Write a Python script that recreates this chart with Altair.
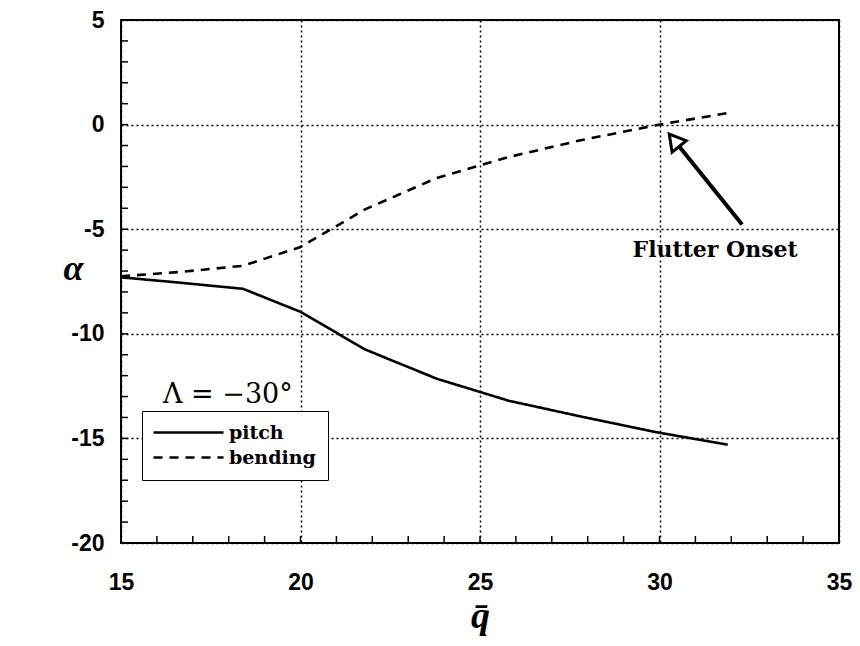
import altair as alt
import pandas as pd

# Eigenvalue trace: real part of each mode versus dynamic pressure
q_values = [15.0, 16.6, 18.4, 20.0, 21.8, 23.8, 25.8, 27.8, 29.9, 31.9]
pitch_alpha = [-7.3, -7.55, -7.85, -8.95, -10.75, -12.15, -13.2, -13.95, -14.7, -15.3]
bending_alpha = [-7.25, -7.05, -6.75, -5.85, -4.05, -2.55, -1.55, -0.75, -0.03, 0.55]
mode_names = ["pitch", "bending"]

x_major = [15, 20, 25, 30, 35]
y_major = [5, 0, -5, -10, -15, -20]
x_minor = list(range(16, 35))
y_minor = list(range(-19, 5))

W, H = 718, 523
TICK = 7

rows = []
for q, a in zip(q_values, pitch_alpha):
    rows.append({"q": q, "alpha": a, "mode": "pitch"})
for q, a in zip(q_values, bending_alpha):
    rows.append({"q": q, "alpha": a, "mode": "bending"})
curves = pd.DataFrame(rows)

xs = alt.Scale(domain=[15, 35], nice=False, zero=False)
ys = alt.Scale(domain=[-20, 5], nice=False, zero=False)

tick_font = "Liberation Sans"
hyphen_labels = "replace(datum.label, '\u2212', '-')"

x_axis = alt.Axis(
    values=x_major, ticks=False, domain=False, grid=True,
    gridDash=[2, 3], gridColor="black", gridWidth=1.5, gridOpacity=1,
    labelFont=tick_font, labelFontSize=23, labelFontWeight="bold",
    labelColor="black", labelPadding=28, labelFlush=False,
    title="q\u0304", titleFont="Liberation Serif", titleFontSize=38,
    titleFontStyle="italic", titleFontWeight="bold", titleColor="black",
    titleY=84, titleBaseline="alphabetic",
)
y_axis = alt.Axis(
    values=y_major, ticks=False, domain=False, grid=True,
    gridDash=[2, 3], gridColor="black", gridWidth=1.5, gridOpacity=1,
    labelFont=tick_font, labelFontSize=23, labelFontWeight="bold",
    labelColor="black", labelPadding=17, labelFlush=False,
    labelExpr=hyphen_labels,
    title="\u03b1", titleFont="Liberation Serif", titleFontSize=36,
    titleFontStyle="italic", titleFontWeight="bold", titleColor="black",
    titleAngle=0, titleX=-48, titleY=248, titleBaseline="middle",
)

# legend key: a long horizontal stroke drawn to the right of the symbol's slot
key_path = "M-2,0L12,0"

lines = alt.Chart(curves).mark_line(color="black", strokeWidth=2.6).encode(
    x=alt.X("q:Q", scale=xs, axis=x_axis),
    y=alt.Y("alpha:Q", scale=ys, axis=y_axis),
    strokeDash=alt.StrokeDash(
        "mode:N",
        scale=alt.Scale(domain=mode_names, range=[[1, 0], [9, 7]]),
        legend=alt.Legend(title=None),
    ),
    detail="mode:N",
)

# inward minor/major ticks on the left and bottom edges
xt = alt.Chart(pd.DataFrame({"q": x_minor})).mark_rule(color="black", strokeWidth=1.5).encode(
    x=alt.X("q:Q", scale=xs), y=alt.value(H), y2=alt.value(H - TICK)
)
yt = alt.Chart(pd.DataFrame({"alpha": y_minor})).mark_rule(color="black", strokeWidth=1.5).encode(
    y=alt.Y("alpha:Q", scale=ys), x=alt.value(0), x2=alt.value(TICK)
)

# flutter-onset arrow
arrow_tail = (32.30, -4.78)
arrow_head = (30.41, -0.75)
arrow_df = pd.DataFrame({"q": [arrow_tail[0], arrow_head[0]], "alpha": [arrow_tail[1], arrow_head[1]]})
arrow_line = alt.Chart(arrow_df).mark_line(color="black", strokeWidth=4).encode(
    x=alt.X("q:Q", scale=xs), y=alt.Y("alpha:Q", scale=ys)
)
arrow_tip = alt.Chart(pd.DataFrame({"q": [arrow_head[0]], "alpha": [arrow_head[1]]})).mark_point(
    shape="triangle-up", size=330, filled=True, fill="white", stroke="black",
    strokeWidth=3, opacity=1, angle=321,
).encode(x=alt.X("q:Q", scale=xs), y=alt.Y("alpha:Q", scale=ys))

onset = alt.Chart(pd.DataFrame({"q": [31.55], "alpha": [-6.31], "t": ["Flutter Onset"]})).mark_text(
    font="DejaVu Serif", fontSize=22, fontWeight="bold", color="black",
    align="center", baseline="alphabetic",
).encode(x=alt.X("q:Q", scale=xs), y=alt.Y("alpha:Q", scale=ys), text="t:N")

sweep = alt.Chart(pd.DataFrame({"q": [16.17], "alpha": [-13.29], "t": ["\u039b = \u221230\u00b0"]})).mark_text(
    font="DejaVu Serif", fontSize=27, color="black", align="left", baseline="alphabetic",
).encode(x=alt.X("q:Q", scale=xs), y=alt.Y("alpha:Q", scale=ys), text="t:N")

chart = alt.layer(lines, xt, yt, arrow_line, arrow_tip, onset, sweep).properties(
    width=W, height=H,
    autosize=alt.AutoSizeParams(type="none"),
    padding={"left": 121, "top": 20, "right": 21, "bottom": 103},
    background="white",
).configure_view(
    stroke="black", strokeWidth=2,
).configure_legend(
    orient="none", legendX=21, legendY=391,
    fillColor="white", strokeColor="black", padding=12,
    symbolType=key_path, symbolSize=100, symbolStrokeWidth=2.5,
    symbolStrokeColor="black", symbolFillColor="transparent",
    labelFont="DejaVu Serif", labelFontSize=19,
    labelFontWeight="bold", labelColor="black", labelOffset=56, rowPadding=5,
)

chart.save("out.html", embed_options={"renderer": "svg", "actions": False})
